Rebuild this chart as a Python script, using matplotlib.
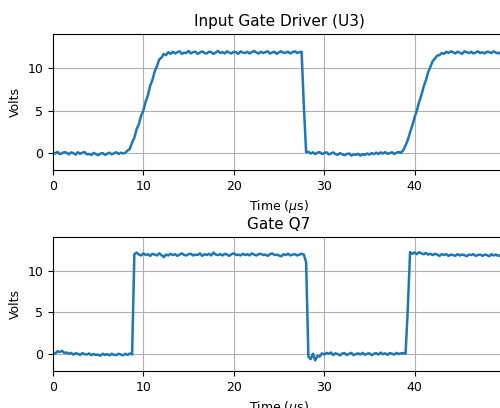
import numpy as np
import matplotlib.pyplot as plt

plt.rcParams.update({
    "font.size": 9,
    "axes.titlesize": 11,
})

# Scope captures, sampled every 0.25 us from 0 to 50 us
u3_volts = (
    # low before turn-on
    [0.10, -0.05, 0.15, -0.12, -0.02, 0.12, 0.05, -0.15, 0.08, 0.00, -0.18, 0.10, -0.08, 0.05, 0.12, -0.15,
     -0.10, -0.22, 0.02, -0.12, -0.25, -0.05, 0.00, -0.20, -0.08, 0.05, -0.15, -0.02, 0.10, -0.10, 0.05, -0.05]
    # slow rise
    + [0.05, 0.30, 0.50, 1.25, 1.80, 2.80, 3.40, 4.40, 5.00, 6.05, 6.80, 7.90, 8.60, 9.60, 10.20, 11.00,
       11.20, 11.65, 11.50, 11.85, 11.65]
    # high plateau
    + [11.90, 11.70, 11.85, 11.95, 11.65, 11.80, 11.75, 12.00, 11.70, 11.85, 11.90, 11.65, 11.80, 11.95, 11.75, 11.70,
       11.90, 11.85, 11.65, 11.80, 12.00, 11.75, 11.85, 11.70, 11.95, 11.80, 11.70, 11.90, 11.85, 11.65, 11.95, 11.80,
       11.75, 11.90, 11.70, 11.85, 12.00, 11.80, 11.70, 11.90, 11.75, 11.85, 11.95, 11.70, 11.80, 11.90, 11.65, 11.85,
       11.95, 11.75, 11.80, 11.90, 11.70, 11.85, 11.95, 11.75, 11.85, 11.90]
    # fast turn-off
    + [5.50, 0.10]
    # low
    + [0.15, -0.05, 0.10, -0.12, 0.05, 0.12, -0.10, 0.00, 0.10, -0.15, -0.05, 0.08, -0.12, -0.20, 0.00, -0.15,
       -0.25, -0.10, -0.05, -0.28, -0.15, -0.20, -0.08, -0.30, -0.12, -0.22, -0.05, -0.18, 0.00, -0.12, 0.05, -0.10,
       0.08, -0.05, 0.12, -0.08, 0.00, 0.10, -0.10, 0.05, 0.12, 0.05]
    # second rise
    + [0.35, 0.90, 1.55, 2.45, 3.25, 4.20, 5.00, 6.00, 6.80, 7.80, 8.55, 9.50, 10.15, 10.80, 11.10, 11.45,
       11.50, 11.75, 11.65, 11.90]
    # high
    + [11.75, 11.95, 11.85, 11.70, 11.90, 11.80, 11.65, 11.95, 11.85, 11.75, 11.90, 11.70, 11.80, 11.95, 11.75, 11.85,
       11.70, 11.90, 11.85, 11.75, 11.95, 11.80, 11.70, 11.85, 11.80, 11.90]
)

q7_volts = (
    # low before switching
    [0.20, 0.05, 0.35, 0.25, 0.40, 0.15, 0.20, 0.05, 0.15, -0.05, 0.10, 0.05, -0.10, 0.12, 0.00, -0.05,
     0.08, -0.12, 0.02, -0.10, -0.05, -0.18, 0.05, -0.10, 0.00, -0.15, 0.05, -0.08, -0.12, 0.05, -0.05, -0.15,
     0.05, -0.10, 0.08, -0.05]
    # turn-on edge
    + [11.95]
    # on
    + [12.15, 11.90, 11.80, 12.05, 11.85, 11.95, 11.75, 12.00, 11.90, 11.80, 12.05, 11.85, 11.60, 11.90, 11.80, 12.00,
       11.85, 11.95, 11.75, 11.90, 12.05, 11.85, 11.80, 11.95, 12.00, 11.80, 11.90, 11.85, 12.05, 11.75, 11.95, 11.85,
       12.00, 11.80, 12.15, 11.90, 11.85, 11.95, 11.80, 12.00, 11.90, 11.75, 11.95, 12.05, 11.85, 11.90, 11.80, 12.00,
       11.85, 11.95, 11.80, 12.05, 11.90, 11.80, 11.95, 12.00, 11.85, 11.90, 11.75, 11.95, 12.05, 11.85, 11.90, 11.80,
       11.70, 11.95, 11.85, 12.00, 11.80, 11.90, 11.95, 11.80, 11.90, 12.00, 11.90]
    # turn-off edge
    + [11.00]
    # off, with undershoot
    + [-0.30, -0.60, 0.05, -0.75, -0.20, -0.30, 0.10, -0.05, 0.15, 0.05, 0.20, -0.10, 0.10, 0.00, -0.15, 0.08,
       0.12, -0.10, 0.05, 0.15, -0.12, 0.00, 0.10, -0.05, 0.15, -0.08, 0.05, 0.10, -0.12, 0.05, 0.12, -0.05,
       0.18, 0.00, 0.10, -0.08, 0.12, 0.05, -0.05, 0.15, 0.02, 0.10, 0.12, 0.05]
    # second turn-on
    + [5.50]
    + [12.20, 12.00, 12.15, 11.95, 12.20, 12.05, 11.95, 12.10, 11.90, 12.00, 11.85, 12.00, 11.90, 11.75, 11.95, 11.85,
       11.95, 11.75, 11.90, 11.85, 11.75, 11.95, 11.80, 11.90, 11.85, 11.70, 11.90, 11.85, 11.95, 11.75, 11.85, 11.90,
       11.75, 11.90, 11.85, 11.70, 11.95, 11.80, 11.90, 11.75, 11.85, 11.90, 11.85]
)

titles = ["Input Gate Driver (U3)", "Gate Q7"]

fig = plt.figure(figsize=(5.0, 4.08), dpi=100)
ax1 = fig.add_axes([0.106, 0.583, 0.904, 0.334])
ax2 = fig.add_axes([0.106, 0.091, 0.904, 0.328])

for ax, volts, title in zip([ax1, ax2], [u3_volts, q7_volts], titles):
    t = np.linspace(0, 50, len(volts))
    ax.plot(t, volts, color="tab:blue", lw=1.8)
    ax.set_title(title)
    ax.set_xlim(0, 50)
    ax.set_ylim(-2, 14)
    ax.set_yticks([0, 5, 10])
    ax.set_xticks([0, 10, 20, 30, 40])
    ax.set_xlabel(r"Time ($\mu$s)")
    ax.set_ylabel("Volts")
    ax.grid(True)

fig.savefig("out.png", dpi=100)
